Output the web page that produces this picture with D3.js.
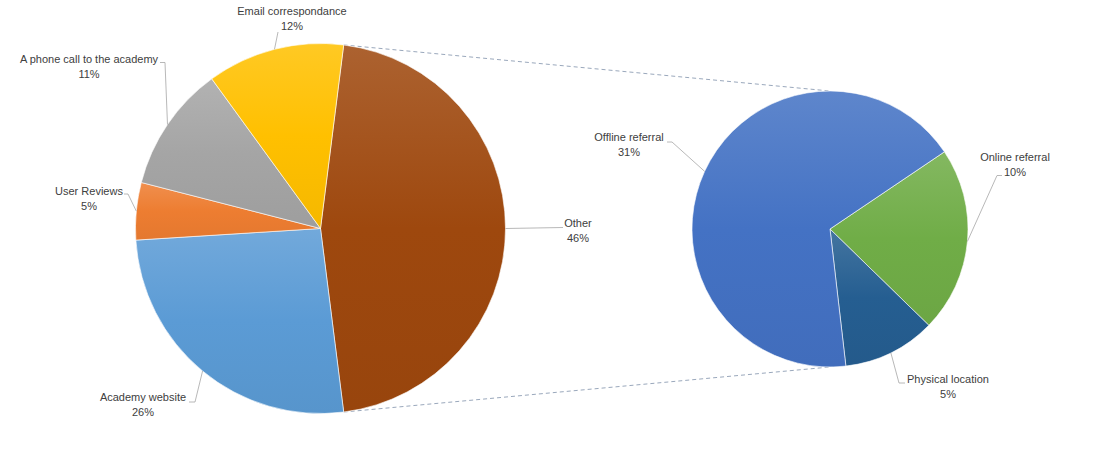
<!DOCTYPE html>
<html>
<head>
<meta charset="utf-8">
<script src="https://cdn.jsdelivr.net/npm/d3@7"></script>
<style>
  html, body { margin: 0; padding: 0; background: #fff; }
  svg { display: block; }
  text { font-family: "Liberation Sans", Arial, sans-serif; font-size: 11px; fill: #404040; }
</style>
</head>
<body>
<svg id="chart" width="1104" height="458"></svg>
<script>
// ---- Data ----
const mainCategories = ["Other", "Academy website", "User Reviews", "A phone call to the academy", "Email correspondance"];
const mainValues = [46, 26, 5, 11, 12];
const mainLabels = ["46%", "26%", "5%", "11%", "12%"];
const mainColors = ["#9E480E", "#5B9BD5", "#ED7D31", "#A5A5A5", "#FFC000"];

const subCategories = ["Online referral", "Physical location", "Offline referral"];
const subValues = [10, 5, 31];
const subLabels = ["10%", "5%", "31%"];
const subColors = ["#70AD47", "#255E91", "#4472C4"];

// ---- Layout ----
const svg = d3.select("#chart");
const W = 1104, H = 458;
const main = { cx: 320.5, cy: 228.5, r: 185 };
const sub = { cx: 830, cy: 229, r: 138 };
const deg = Math.PI / 180;

const defs = svg.append("defs");
function addGradient(id, base) {
  const g = defs.append("linearGradient").attr("id", id)
    .attr("x1", 0).attr("y1", 0).attr("x2", 0).attr("y2", 1);
  g.append("stop").attr("offset", "0%").attr("stop-color", d3.interpolateRgb(base, "#ffffff")(0.14));
  g.append("stop").attr("offset", "50%").attr("stop-color", base);
  g.append("stop").attr("offset", "100%").attr("stop-color", d3.interpolateRgb(base, "#000000")(0.04));
}
mainColors.forEach((c, i) => addGradient("gm" + i, c));
subColors.forEach((c, i) => addGradient("gs" + i, c));

const totalMain = d3.sum(mainValues);
const otherSpan = mainValues[0] / totalMain * 2 * Math.PI;
const mainStart = Math.PI / 2 - otherSpan / 2;

const mainPie = d3.pie().sort(null).value(d => d)
  .startAngle(mainStart).endAngle(mainStart + 2 * Math.PI);
const subStart = 56 * deg;
const subPie = d3.pie().sort(null).value(d => d)
  .startAngle(subStart).endAngle(subStart + 2 * Math.PI);

const mainArcs = mainPie(mainValues);
const subArcs = subPie(subValues);

const mainArc = d3.arc().innerRadius(0).outerRadius(main.r);
const subArc = d3.arc().innerRadius(0).outerRadius(sub.r);

function polar(c, r, a) {
  return [c.cx + r * Math.sin(a), c.cy - r * Math.cos(a)];
}

// ---- Connector lines ----
const otherArc = mainArcs[0];
const p1 = polar(main, main.r, otherArc.startAngle);
const p2 = polar(main, main.r, otherArc.endAngle);
const q1 = [sub.cx, sub.cy - sub.r];
const q2 = [sub.cx, sub.cy + sub.r];
svg.append("g").selectAll("line").data([[p1, q1], [p2, q2]]).join("line")
  .attr("x1", d => d[0][0]).attr("y1", d => d[0][1])
  .attr("x2", d => d[1][0]).attr("y2", d => d[1][1])
  .attr("stroke", "#9aa8bc").attr("stroke-width", 1)
  .attr("stroke-dasharray", "4,3");

// ---- Pies ----
svg.append("g").attr("transform", `translate(${main.cx},${main.cy})`)
  .selectAll("path").data(mainArcs).join("path")
  .attr("d", mainArc)
  .attr("fill", (d, i) => `url(#gm${i})`)
  .attr("stroke", "#ffffff").attr("stroke-width", 0.6);

svg.append("g").attr("transform", `translate(${sub.cx},${sub.cy})`)
  .selectAll("path").data(subArcs).join("path")
  .attr("d", subArc)
  .attr("fill", (d, i) => `url(#gs${i})`)
  .attr("stroke", "#ffffff").attr("stroke-width", 0.6);

// ---- Labels ----
// label placements: [center x, baseline y of name], leader points (beyond pie edge)
const mainLabelPos = [
  { x: 578, y: 227, leader: [[563, 227.5]] },
  { x: 143, y: 401, leader: [[195, 402], [189, 402]] },
  { x: 89, y: 195, leader: [[128, 194], [124, 194]] },
  { x: 89, y: 63, leader: [[165, 62.5], [160, 62.5]] },
  { x: 292, y: 15, leader: [[278, 32]] }
];
const subLabelPos = [
  { x: 1015, y: 161, leader: [[997, 175.5], [1002, 175.5]] },
  { x: 948, y: 383, leader: [[899, 383], [905, 383]] },
  { x: 629, y: 141, leader: [[672, 142], [667, 142]] }
];

function drawLabels(arcs, center, pos, names, pcts) {
  const g = svg.append("g");
  arcs.forEach((a, i) => {
    const mid = (a.startAngle + a.endAngle) / 2;
    const start = polar(center, center.r, mid);
    const pts = [start].concat(pos[i].leader);
    g.append("path")
      .attr("d", d3.line()(pts))
      .attr("fill", "none").attr("stroke", "#a6a6a6").attr("stroke-width", 0.8);
    g.append("text").attr("x", pos[i].x).attr("y", pos[i].y)
      .attr("text-anchor", "middle").text(names[i]);
    g.append("text").attr("x", pos[i].x).attr("y", pos[i].y + 15)
      .attr("text-anchor", "middle").text(pcts[i]);
  });
}
drawLabels(mainArcs, main, mainLabelPos, mainCategories, mainLabels);
drawLabels(subArcs, sub, subLabelPos, subCategories, subLabels);
</script>
</body>
</html>
